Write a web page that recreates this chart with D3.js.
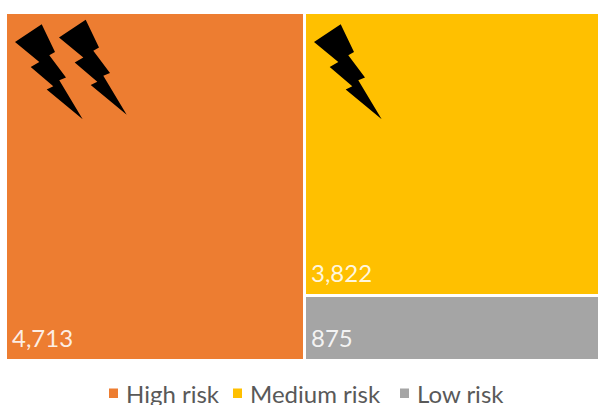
<!DOCTYPE html>
<html>
<head>
<meta charset="utf-8">
<script src="https://cdnjs.cloudflare.com/ajax/libs/d3/7.8.5/d3.min.js"></script>
<style>
  html, body { margin: 0; padding: 0; background: #fff; overflow: hidden; }
  svg { display: block; }
  text { font-family: Lato, "Open Sans", sans-serif; }
</style>
</head>
<body>
<svg id="chart" width="598" height="405"></svg>
<script>
// Risk categories, their totals and the number of warning bolts each one carries
const categories = ["High risk", "Medium risk", "Low risk"];
const counts = [4713, 3822, 875];
const boltCounts = [2, 1, 0];
const colors = ["#ED7D31", "#FFC000", "#A5A5A5"];

// Lightning bolt outline, measured from its left tip in glyph units
const boltOutline = [
  [0, 0], [26.7, -17.7], [40, 10], [34.3, 13.3], [51, 35.6], [44.3, 38.3],
  [67.7, 77.3], [31.7, 47.6], [38.3, 44.3], [15.7, 25], [24.3, 20]
];

const svg = d3.select("#chart");
// The treemap runs slightly past the right edge of the canvas
const frame = { x: 7, y: 14, w: 594, h: 345 };

const root = d3.hierarchy({
  children: categories.map((name, i) => ({
    name, value: counts[i], color: colors[i], bolts: boltCounts[i]
  }))
}).sum(d => d.value || 0).sort((a, b) => b.value - a.value);

d3.treemap()
  .tile(d3.treemapBinary)
  .size([frame.w, frame.h])
  .paddingInner(3)
  .round(true)(root);

const plot = svg.append("g").attr("transform", `translate(${frame.x},${frame.y})`);

const cells = plot.selectAll("g.cell")
  .data(root.leaves())
  .join("g")
  .attr("class", "cell")
  .attr("transform", d => `translate(${d.x0},${d.y0})`);

cells.append("rect")
  .attr("width", d => d.x1 - d.x0)
  .attr("height", d => d.y1 - d.y0)
  .attr("fill", d => d.data.color);

const boltLine = d3.line().curve(d3.curveLinearClosed);

// Bolts step rightwards from the cell's top-left corner and rise slightly
cells.selectAll("path.bolt")
  .data(d => d3.range(d.data.bolts))
  .join("path")
  .attr("class", "bolt")
  .attr("d", boltLine(boltOutline))
  .attr("fill", "#000")
  .attr("transform", i => `translate(${8 + i * 44},${i === 0 ? 28 : 23.5})`);

// Value label in the bottom-left corner of each cell
cells.append("text")
  .attr("x", 5)
  .attr("y", d => d.y1 - d.y0 - 12)
  .attr("fill", "#fff")
  .attr("fill-opacity", 0.88)
  .attr("font-size", 24)
  .text(d => d3.format(",")(d.data.value));

// Legend row beneath the treemap
const legend = svg.append("g");
const legendKeyX = [109, 233, 400];
const legendItems = legend.selectAll("g")
  .data(categories)
  .join("g")
  .attr("transform", (d, i) => `translate(${legendKeyX[i]},0)`);

legendItems.append("rect")
  .attr("y", 388.5)
  .attr("width", 9)
  .attr("height", 9.5)
  .attr("fill", (d, i) => colors[i]);

legendItems.append("text")
  .attr("x", 17)
  .attr("y", 403)
  .attr("fill", "#595959")
  .attr("font-size", 24)
  .text(d => d);
</script>
</body>
</html>
